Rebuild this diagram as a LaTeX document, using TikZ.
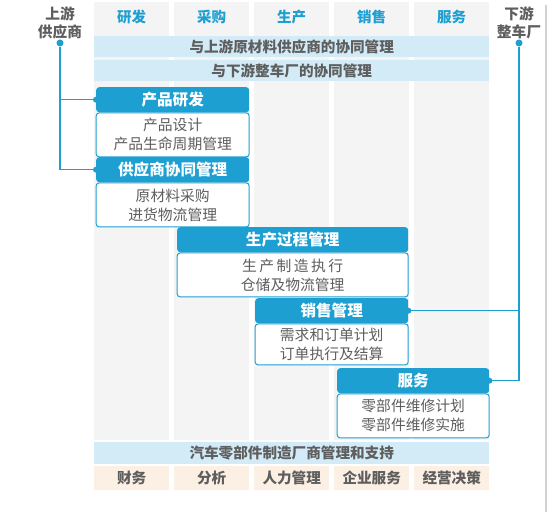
\documentclass[tikz,border=0pt]{standalone}
\usepackage{fontspec}
\setmainfont{Noto Sans CJK SC}
\usetikzlibrary{positioning}
\definecolor{mainblue}{HTML}{1E9FD2}
\definecolor{bandblue}{HTML}{D2EBF7}
\definecolor{colgray}{HTML}{F4F4F4}
\definecolor{peach}{HTML}{FCEFE3}
\definecolor{txtgray}{HTML}{5E5E5E}
\tikzset{
    colhead/.style={font=\fontsize{14.5}{16}\selectfont\bfseries, text=mainblue, inner sep=0pt},
    sidelabel/.style={font=\fontsize{14.7}{18}\selectfont\bfseries, text=txtgray, align=center, inner sep=0pt},
    band/.style={rectangle, anchor=north west, fill=bandblue, minimum width=395pt, minimum height=21pt, inner sep=0pt, font=\fontsize{14.6}{16}\selectfont\bfseries, text=txtgray},
    cell/.style={rectangle, anchor=north west, fill=peach, minimum width=75pt, minimum height=24pt, inner sep=0pt, font=\fontsize{14.6}{16}\selectfont\bfseries, text=txtgray},
    boxhead/.style={rectangle, rounded corners=3pt, anchor=north west, fill=mainblue, minimum height=25pt, inner sep=0pt, font=\fontsize{15.6}{16}\selectfont\bfseries, text=white},
    boxbody/.style={rectangle, rounded corners=3pt, draw=mainblue, line width=1pt, fill=white, minimum height=44pt, inner sep=0pt, align=center, font=\fontsize{14.8}{19}\selectfont, text=txtgray},
    dot/.style={circle, fill=mainblue, inner sep=0pt, minimum size=7pt},
    enddot/.style={circle, fill=mainblue, inner sep=0pt, minimum size=6pt},
    link/.style={draw=mainblue, line width=1.5pt}
}
\begin{document}
\begin{tikzpicture}[x=1pt, y=-1pt]
    \useasboundingbox (0,0) rectangle (554,519);
    % Column backgrounds
    \foreach \x in {94,174,254,334,414}
        \fill[colgray] (\x,2) rectangle ++(75,438);
    \draw[gray!35, line width=2pt] (546,5) -- (546,512);

    % Column headings
    \node (hrd) [colhead] at (131.5,17) {研发};
    \node (hpur) [colhead] at (211.5,17) {采购};
    \node (hprod) [colhead] at (291.5,17) {生产};
    \node (hsale) [colhead] at (371.5,17) {销售};
    \node (hsvc) [colhead] at (451.5,17) {服务};

    % Collaboration bands
    \node (bandup) [band] at (94,36) {与上游原材料供应商的协同管理};
    \node (banddown) [band] at (94,60) {与下游整车厂的协同管理};

    % Process boxes
    \node (rdhead) [boxhead, minimum width=153pt] at (96,87) {产品研发};
    \node (rdbody) [boxbody, minimum width=153pt, below=0pt of rdhead] {产品设计\\产品生命周期管理};
    \node (sphead) [boxhead, minimum width=153pt] at (96,157) {供应商协同管理};
    \node (spbody) [boxbody, minimum width=153pt, below=0pt of sphead] {原材料采购\\进货物流管理};
    \node (prodhead) [boxhead, minimum width=231pt] at (177,227) {生产过程管理};
    \node (prodbody) [boxbody, minimum width=231pt, below=0pt of prodhead] {生\,产\,制\,造\,执\,行\\仓储及物流管理};
    \node (salehead) [boxhead, minimum width=153pt] at (255,298) {销售管理};
    \node (salebody) [boxbody, minimum width=153pt, minimum height=41pt, below=0pt of salehead] {需求和订单计划\\订单执行及结算};
    \node (svchead) [boxhead, minimum width=152pt] at (337,368) {服务};
    \node (svcbody) [boxbody, minimum width=152pt, below=0pt of svchead] {零部件维修计划\\零部件维修实施};

    % Upstream / downstream partners
    \node (suplabel) [sidelabel] at (60,23) {上游\\供应商};
    \node (oemlabel) [sidelabel] at (519,23) {下游\\整车厂};
    \node (supdot) [dot] at (60,43) {};
    \node (oemdot) [dot] at (519,43) {};
    \draw [link] (supdot) |- (rdhead.west);
    \draw [link] (supdot) |- (sphead.west);
    \draw [link] (oemdot) |- (salehead.east);
    \draw [link] (oemdot) |- (svchead.east);
    \node [enddot] at (rdhead.west) {};
    \node [enddot] at (sphead.west) {};
    \node [enddot] at (salehead.east) {};
    \node [enddot] at (svchead.east) {};

    % Support layer
    \node (support) [band, minimum height=22pt] at (94,442) {汽车零部件制造厂商管理和支持};
    \node (fin) [cell] at (94,466) {财务};
    \node (ana) [cell] at (174,466) {分析};
    \node (hr) [cell] at (254,466) {人力管理};
    \node (ent) [cell] at (334,466) {企业服务};
    \node (dec) [cell] at (414,466) {经营决策};
\end{tikzpicture}
\end{document}
